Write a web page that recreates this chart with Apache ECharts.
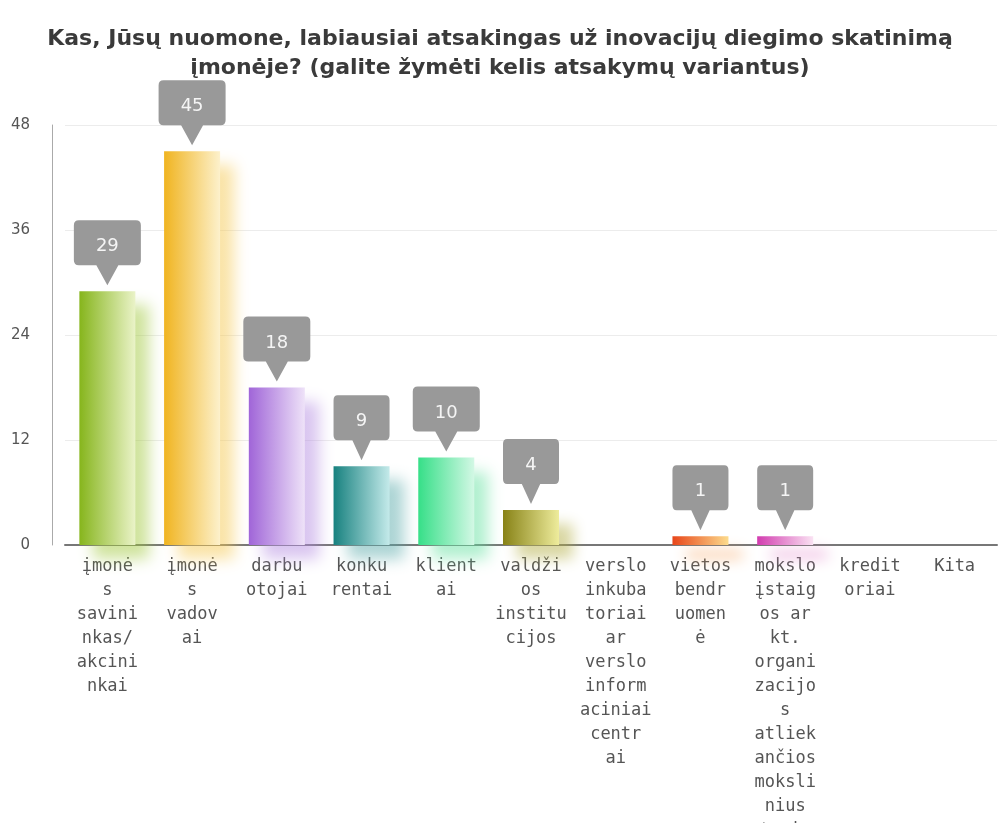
<!DOCTYPE html>
<html>
<head>
<meta charset="utf-8">
<script src="https://cdn.jsdelivr.net/npm/echarts@6/dist/echarts.min.js"></script>
<style>html,body{margin:0;padding:0;background:#fff}#c{width:1000px;height:823px}</style>
</head>
<body>
<div id="c"></div>
<script>
const titleText = "Kas, Jūsų nuomone, labiausiai atsakingas už inovacijų diegimo skatinimą\nįmonėje? (galite žymėti kelis atsakymų variantus)";
const categories = ["įmonės savininkas/akcininkai", "įmonės vadovai", "darbuotojai", "konkurentai", "klientai", "valdžios institucijos", "verslo inkubatoriai ar verslo informaciniai centrai", "vietos bendruomenė", "mokslo įstaigos ar kt. organizacijos atliekančios mokslinius tyrimus", "kreditoriai", "Kita"];
const tickLabels = [
  "įmonė\ns\nsavini\nnkas/\nakcini\nnkai",
  "įmonė\ns\nvadov\nai",
  "darbu\notojai",
  "konku\nrentai",
  "klient\nai",
  "valdži\nos\ninstitu\ncijos",
  "verslo\ninkuba\ntoriai\nar\nverslo\ninform\naciniai\ncentr\nai",
  "vietos\nbendr\nuomen\nė",
  "mokslo\nįstaig\nos ar\nkt.\norgani\nzacijo\ns\natliek\nančios\nmoksli\nnius\ntyrim\nus",
  "kredit\noriai",
  "Kita"
];
const values = [29, 45, 18, 9, 10, 4, 0, 1, 1, 0, 0];
const yTicks = [0, 12, 24, 36, 48];

const palette = [
  ['#86b51c', '#eaf3c8', 'rgba(160,200,60,0.5)'],
  ['#f0b420', '#fdf1cc', 'rgba(245,200,80,0.5)'],
  ['#a065d8', '#eee2f8', 'rgba(180,140,225,0.5)'],
  ['#17817f', '#c4eaea', 'rgba(90,170,170,0.5)'],
  ['#36df88', '#d3f8e5', 'rgba(100,225,160,0.5)'],
  ['#878216', '#eeec9c', 'rgba(180,175,70,0.5)'],
  ['#999999', '#eeeeee', 'rgba(150,150,150,0.4)'],
  ['#e8461a', '#fcdb8c', 'rgba(245,160,90,0.5)'],
  ['#d23caf', '#fae2f3', 'rgba(225,130,200,0.5)'],
  ['#999999', '#eeeeee', 'rgba(150,150,150,0.4)'],
  ['#999999', '#eeeeee', 'rgba(150,150,150,0.4)']
];

const barData = values.map((v, i) => ({
  value: v,
  itemStyle: {
    color: new echarts.graphic.LinearGradient(0, 0, 1, 0, [
      {offset: 0, color: palette[i][0]},
      {offset: 1, color: palette[i][1]}
    ]),
    shadowColor: palette[i][2],
    shadowBlur: 14,
    shadowOffsetX: 14,
    shadowOffsetY: 14
  }
}));

const calloutPath = 'path://M5,0 H62 Q67,0 67,5 V40 Q67,45 62,45 H44.5 L33.5,65 L22.5,45 H5 Q0,45 0,40 V5 Q0,0 5,0 Z';
const calloutData = values.map(v => v > 0 ? v : '-');

const chart = echarts.init(document.getElementById('c'), null, {renderer: 'canvas'});
chart.setOption({
  animation: false,
  backgroundColor: '#ffffff',
  title: {
    text: titleText,
    left: 'center',
    top: 20,
    textStyle: {
      fontFamily: 'DejaVu Sans',
      fontWeight: 'bold',
      fontSize: 22,
      lineHeight: 29,
      color: '#3a3a3a'
    }
  },
  grid: {left: 65, right: 3, top: 125, bottom: 278, containLabel: false, outerBoundsMode: 'none'},
  xAxis: {
    type: 'category',
    data: categories,
    axisLine: {show: true, lineStyle: {color: '#777777', width: 2}},
    axisTick: {show: false},
    splitLine: {show: false},
    axisLabel: {
      interval: 0,
      margin: 10,
      formatter: (val, idx) => tickLabels[idx],
      fontFamily: 'DejaVu Sans Mono',
      fontSize: 17,
      lineHeight: 24,
      color: '#555555',
      align: 'center'
    }
  },
  yAxis: {
    type: 'value',
    min: yTicks[0],
    max: yTicks[yTicks.length - 1],
    interval: 12,
    offset: 13,
    axisLine: {show: true, lineStyle: {color: '#aaaaaa', width: 1}},
    axisTick: {show: false},
    splitLine: {show: true, lineStyle: {color: '#ececec', width: 1}},
    axisLabel: {
      margin: 22,
      fontFamily: 'DejaVu Sans',
      fontSize: 15,
      color: '#555555'
    }
  },
  series: [
    {
      type: 'bar',
      data: barData,
      barWidth: 56,
      z: 2
    },
    {
      type: 'scatter',
      data: calloutData,
      symbol: calloutPath,
      symbolSize: (v) => [String(v).length > 1 ? 67 : 56, 65],
      symbolOffset: [0, -38.5],
      itemStyle: {color: '#999999', opacity: 1},
      z: 5,
      label: {
        show: true,
        position: 'inside',
        offset: [0, -6],
        formatter: (p) => String(p.value),
        fontFamily: 'DejaVu Sans',
        fontSize: 18,
        color: '#f5f5f5'
      }
    }
  ]
});
</script>
</body>
</html>
